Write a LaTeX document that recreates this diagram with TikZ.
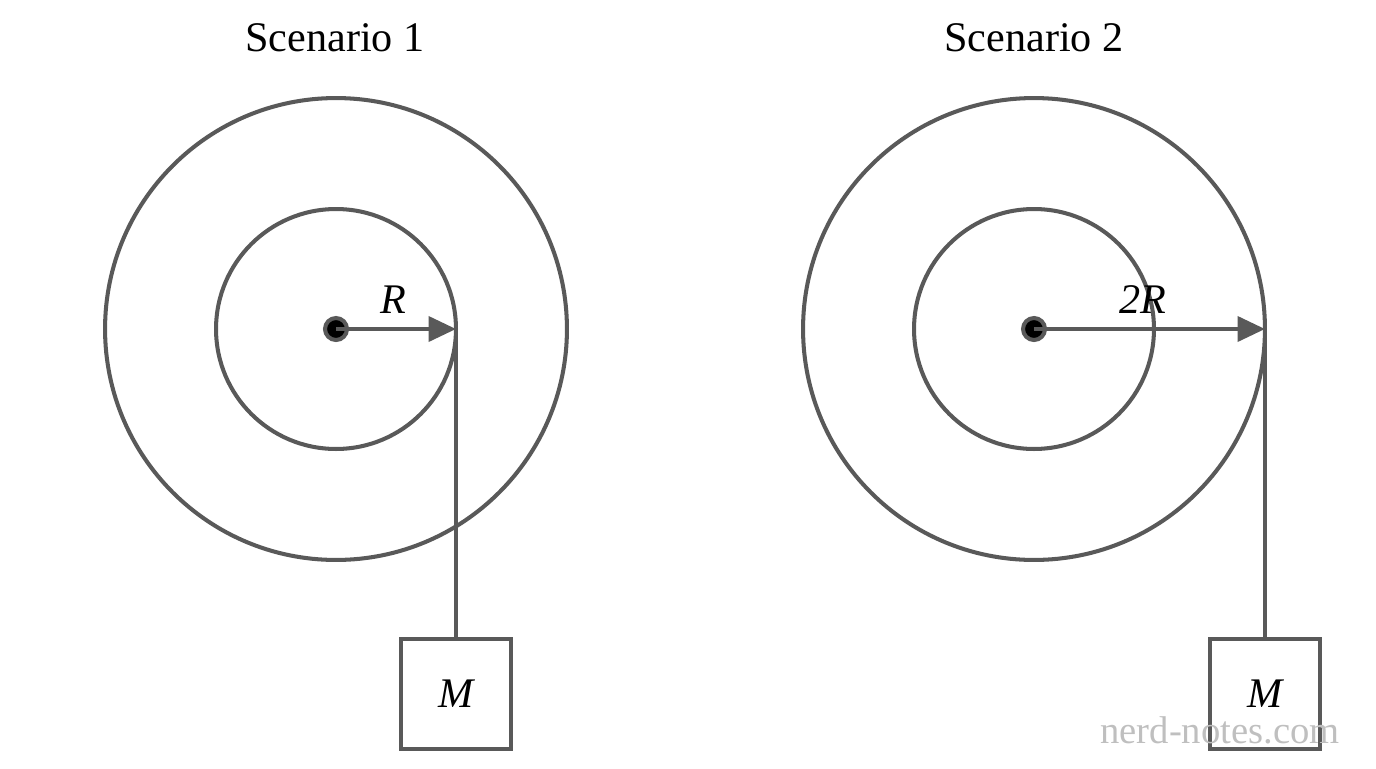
\documentclass[tikz,border=0pt]{standalone}
\usepackage{fontspec}
\setmainfont{Liberation Serif}
\usetikzlibrary{arrows.meta}
\definecolor{ln}{HTML}{595959}
\begin{document}
\begin{tikzpicture}[x=0.02cm,y=-0.02cm,
  ln/.style={draw=ln,line width=2.3pt},
  lab/.style={font=\fontsize{24}{28}\selectfont\itshape,text=black},
  ttl/.style={font=\fontsize{24}{28}\selectfont,text=black},
  box/.style={ln,minimum size=2.2cm,inner sep=0pt,font=\fontsize{24}{28}\selectfont\itshape},
  arr/.style={ln,-{Stealth[length=0.55cm,width=0.5cm,inset=0pt]}}]
\useasboundingbox (0,0) rectangle (1376,768);
\foreach \n/\cx/\px/\bx/\lab/\lx in {a/336/456/456/R/393, b/1034/1265/1265/2R/1143}{
  \coordinate (c\n) at (\cx,329);
  \draw[ln] (c\n) circle[radius=4.62cm];
  \draw[ln] (c\n) circle[radius=2.4cm];
  \fill[ln] (c\n) circle[radius=0.22cm];
  \coordinate (p\n) at (\px,329);
  \draw[arr] (c\n) -- (p\n);
  \node[lab] (l\n) at (\lx,300) {\lab};
  \node[box] (m\n) at (\bx,694) {M};
  \draw[ln] (p\n) -- (m\n.north);
}
\node[ttl] (t1) at (335,38) {Scenario 1};
\node[ttl] (t2) at (1034,38) {Scenario 2};
\node[font=\fontsize{22}{26}\selectfont,text=black!25] (wm) at (1220,730) {nerd-notes.com};
\end{tikzpicture}
\end{document}
